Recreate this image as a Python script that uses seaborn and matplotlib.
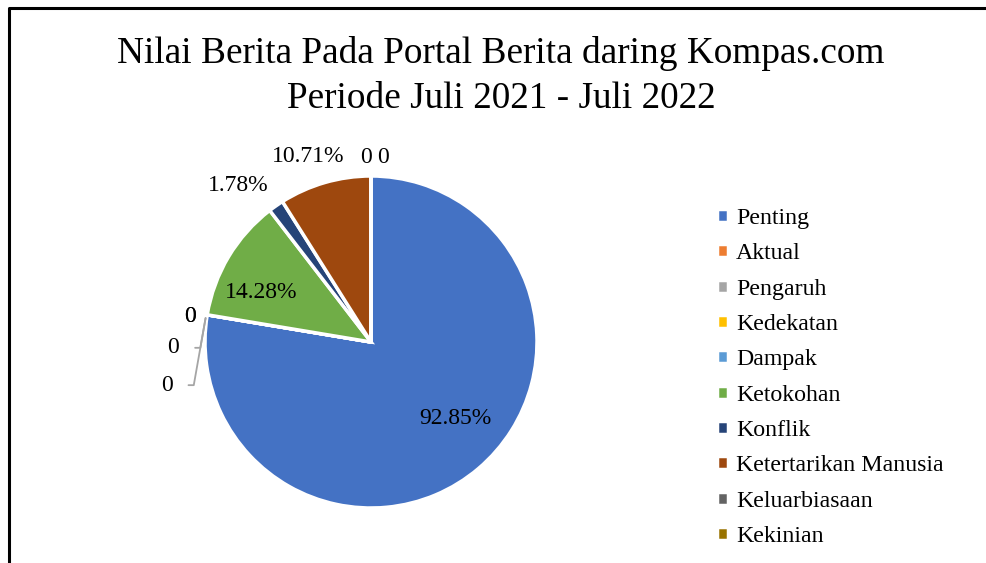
"""Pie chart: Nilai Berita pada portal berita daring Kompas.com."""

import matplotlib.pyplot as plt
import numpy as np
import seaborn as sns

categories = [
    "Penting", "Aktual", "Pengaruh", "Kedekatan", "Dampak",
    "Ketokohan", "Konflik", "Ketertarikan Manusia", "Keluarbiasaan", "Kekinian",
]
values = [92.85, 0, 0, 0, 0, 14.28, 1.78, 10.71, 0, 0]
value_labels = ["92.85%", "0", "0", "0", "0", "14.28%", "1.78%", "10.71%", "0", "0"]
colors = [
    "#4472C4", "#ED7D31", "#A5A5A5", "#FFC000", "#5B9BD5",
    "#70AD47", "#264478", "#9E480E", "#636363", "#997300",
]

title = "Nilai Berita Pada Portal Berita daring Kompas.com\nPeriode Juli 2021 - Juli 2022"


def main() -> None:
    sns.set_theme(style="white")
    plt.rcParams["font.family"] = ["Liberation Serif", "DejaVu Serif"]
    plt.rcParams["text.color"] = "black"

    W, H = 986, 563
    fig = plt.figure(figsize=(W / 100, H / 100), dpi=100)

    cx, cy, r = 371, 342, 166
    ax = fig.add_axes([(cx - r) / W, (H - cy - r) / H, 2 * r / W, 2 * r / H])
    wedges, _ = ax.pie(
        values, colors=colors, startangle=90, counterclock=False,
        wedgeprops=dict(edgecolor="white", linewidth=2.5),
    )
    ax.set_xlim(-1, 1)
    ax.set_ylim(-1, 1)
    ax.set_aspect("equal")
    ax.axis("off")

    # label offsets (x, y) in pie units, placed like Excel's best-fit
    label_pos = {
        0: (0.51, -0.46),
        5: (-0.66, 0.30),
        6: (-0.80, 0.94),
        7: (-0.38, 1.12),
        8: (-0.03, 1.11),
        9: (0.07, 1.11),
        1: (-1.09, 0.155),
        2: (-1.09, 0.155),
    }
    for i, (x, y) in label_pos.items():
        ax.text(x, y, value_labels[i], ha="center", va="center", fontsize=17)

    # zero slices with leader lines on the left edge
    edge = np.deg2rad(wedges[1].theta1)
    ex, ey = np.cos(edge), np.sin(edge)
    for i, (lx, ly) in zip([3, 4], [(-1.19, -0.035), (-1.23, -0.26)]):
        ax.annotate(
            value_labels[i], xy=(ex - 0.01, ey - 0.02), xytext=(lx, ly),
            ha="center", va="center", fontsize=17, annotation_clip=False,
            arrowprops=dict(arrowstyle="-", color="#A5A5A5", lw=1.3,
                            shrinkA=9, shrinkB=0,
                            connectionstyle="angle,angleA=0,angleB=80,rad=0"),
        )

    fig.text(501 / W, 1 - 76 / H, title, ha="center", va="center",
             fontsize=26.8, linespacing=1.4)

    fig.legend(
        wedges, categories, loc="upper left", bbox_to_anchor=(705 / W, 1 - 196 / H),
        frameon=False, fontsize=17.2, handlelength=0.45, handleheight=0.45,
        handletextpad=0.35, labelspacing=0.6, borderpad=0,
    )

    # chart border (top and left edges visible in crop)
    fig.add_artist(plt.Line2D([9 / W, 9 / W, 1], [0, 1 - 8 / H, 1 - 8 / H],
                              color="black", lw=2.2, transform=fig.transFigure))

    fig.savefig("out.png", dpi=100)
    plt.close(fig)


if __name__ == "__main__":
    main()
